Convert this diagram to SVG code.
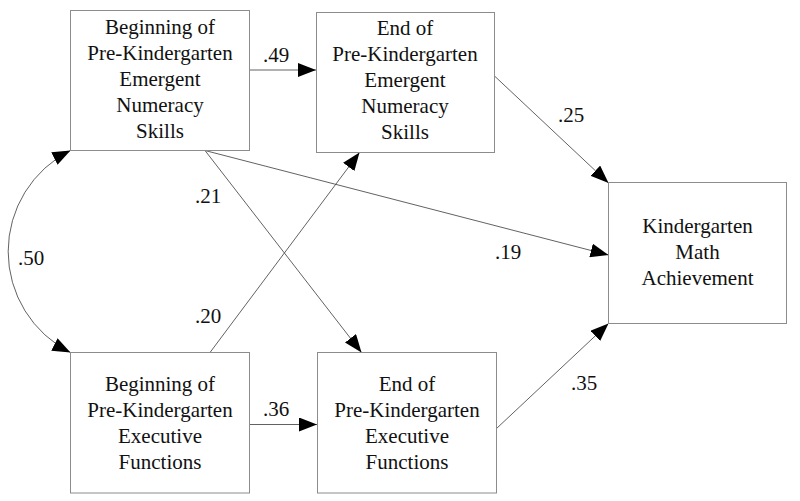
<svg xmlns="http://www.w3.org/2000/svg" width="800" height="501" viewBox="0 0 800 501">
<style>
.box{fill:#fff;stroke:#8c8c8c;stroke-width:1}
.t{font-size:21px;fill:#111;text-anchor:middle}
.l{font-size:21px;fill:#111}
.c{fill:none;stroke:#505050;stroke-width:0.9}
</style>
<defs>
<marker id="ah" markerUnits="userSpaceOnUse" viewBox="0 0 18 14" refX="18" refY="7" markerWidth="18" markerHeight="14" orient="auto-start-reverse">
<path d="M0,0 L18,7 L0,14 z" fill="#000"/>
</marker>
</defs>
<rect width="800" height="501" fill="#fff"/>
<g font-family="Liberation Serif, DejaVu Serif, serif">
<g id="connectors">
<line class="c" x1="249.5" y1="70" x2="316" y2="70" marker-end="url(#ah)"/>
<line class="c" x1="249.5" y1="424.5" x2="317" y2="424.5" marker-end="url(#ah)"/>
<line class="c" x1="494.5" y1="76" x2="608.5" y2="183" marker-end="url(#ah)"/>
<line class="c" x1="205" y1="150.5" x2="608.5" y2="255" marker-end="url(#ah)"/>
<line class="c" x1="205" y1="150.5" x2="361.5" y2="352.5" marker-end="url(#ah)"/>
<line class="c" x1="210" y1="352.5" x2="359.5" y2="152.5" marker-end="url(#ah)"/>
<line class="c" x1="496.5" y1="428.5" x2="608.5" y2="323.5" marker-end="url(#ah)"/>
<path class="c" d="M70.5,150.5 A113,113 0 0 0 70.5,352.5" marker-start="url(#ah)" marker-end="url(#ah)"/>
<text class="l" x="263" y="62">.49</text>
<text class="l" x="263" y="416">.36</text>
<text class="l" x="558" y="122">.25</text>
<text class="l" x="495" y="259">.19</text>
<text class="l" x="195" y="203">.21</text>
<text class="l" x="195" y="323">.20</text>
<text class="l" x="571" y="390">.35</text>
<text class="l" x="18" y="265">.50</text>
</g>
<g id="begin-numeracy">
<rect class="box" x="70.5" y="10.5" width="179" height="140"/>
<text class="t" x="160" y="34">Beginning of</text>
<text class="t" x="160" y="60">Pre-Kindergarten</text>
<text class="t" x="160" y="86">Emergent</text>
<text class="t" x="160" y="112">Numeracy</text>
<text class="t" x="160" y="138">Skills</text>
</g>
<g id="end-numeracy">
<rect class="box" x="316.5" y="12.5" width="178" height="140"/>
<text class="t" x="405" y="35">End of</text>
<text class="t" x="405" y="61">Pre-Kindergarten</text>
<text class="t" x="405" y="87">Emergent</text>
<text class="t" x="405" y="113">Numeracy</text>
<text class="t" x="405" y="139">Skills</text>
</g>
<g id="begin-ef">
<rect class="box" x="70.5" y="352.5" width="179" height="140.5"/>
<text class="t" x="160" y="391">Beginning of</text>
<text class="t" x="160" y="417">Pre-Kindergarten</text>
<text class="t" x="160" y="443">Executive</text>
<text class="t" x="160" y="469">Functions</text>
</g>
<g id="end-ef">
<rect class="box" x="317.5" y="352.5" width="179" height="140.5"/>
<text class="t" x="407" y="391">End of</text>
<text class="t" x="407" y="417">Pre-Kindergarten</text>
<text class="t" x="407" y="443">Executive</text>
<text class="t" x="407" y="469">Functions</text>
</g>
<g id="k-math">
<rect class="box" x="608.5" y="182.5" width="178" height="141"/>
<text class="t" x="697.5" y="233">Kindergarten</text>
<text class="t" x="697.5" y="259">Math</text>
<text class="t" x="697.5" y="285">Achievement</text>
</g>
</g>
</svg>
